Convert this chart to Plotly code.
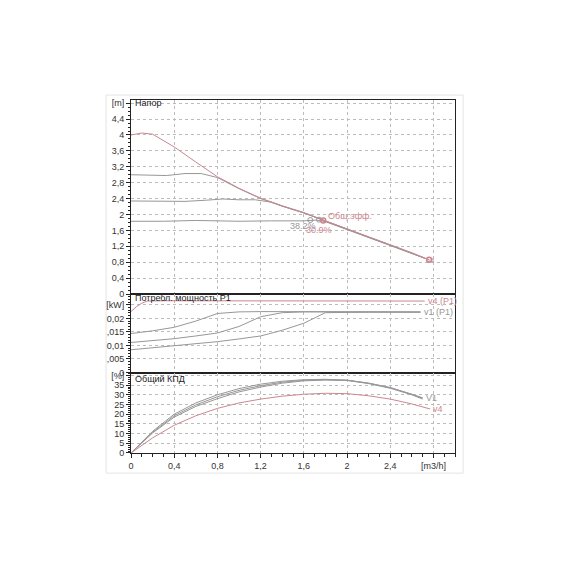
import plotly.graph_objects as go
from plotly.subplots import make_subplots

# Head curves [m] vs flow [m3/h]
q_h_v1 = [0, 0.3, 0.6, 1.0, 1.3, 1.6, 1.72, 1.8, 2.0, 2.2, 2.4, 2.6, 2.72]
h_v1 = [1.83, 1.83, 1.85, 1.83, 1.84, 1.84, 1.86, 1.82, 1.62, 1.42, 1.22, 1.02, 0.9]
q_h_v2 = [0, 0.2, 0.5, 0.7, 0.85, 1.0, 1.15, 1.3, 1.4, 1.6, 1.8, 2.0, 2.2, 2.4, 2.6, 2.72]
h_v2 = [2.34, 2.33, 2.33, 2.36, 2.39, 2.37, 2.37, 2.31, 2.21, 2.04, 1.83, 1.63, 1.43, 1.23, 1.03, 0.9]
q_h_v3 = [0, 0.2, 0.33, 0.5, 0.65, 0.8, 1.0, 1.2, 1.4, 1.6, 1.8, 2.0, 2.2, 2.4, 2.6, 2.72]
h_v3 = [3.0, 2.99, 2.98, 3.03, 3.03, 2.93, 2.65, 2.4, 2.21, 2.04, 1.83, 1.63, 1.43, 1.23, 1.03, 0.9]
q_h_v4 = [0, 0.1, 0.2, 0.4, 0.6, 0.8, 1.0, 1.2, 1.4, 1.6, 1.8, 2.0, 2.2, 2.4, 2.6, 2.76]
h_v4 = [4.0, 4.05, 4.02, 3.7, 3.32, 2.95, 2.66, 2.41, 2.22, 2.05, 1.84, 1.64, 1.44, 1.24, 1.04, 0.86]

# Power P1 [kW]
q_p = [0, 0.2, 0.4, 0.6, 0.8, 1.0, 1.2, 1.4, 1.6, 1.8, 2.0, 2.2, 2.4, 2.6, 2.68]
p_v1 = [0.0084, 0.0091, 0.0098, 0.0106, 0.0114, 0.0124, 0.0135, 0.0156, 0.0182, 0.0221, 0.0223, 0.0223, 0.0223, 0.0223, 0.0223]
p_v2 = [0.0111, 0.0118, 0.0125, 0.0135, 0.0146, 0.017, 0.0206, 0.0221, 0.0224, 0.0224, 0.0224, 0.0224, 0.0223, 0.0223, 0.0223]
p_v3 = [0.0144, 0.0154, 0.0167, 0.019, 0.0218, 0.0224, 0.0225, 0.0225, 0.0225, 0.0225, 0.0224, 0.0224, 0.0224, 0.0224, 0.0224]
q_p_v4 = [0, 0.05, 0.1, 0.15, 0.3, 0.8, 1.4, 2.0, 2.4, 2.72]
p_v4 = [0.0225, 0.0243, 0.0256, 0.0264, 0.0265, 0.0265, 0.0265, 0.0264, 0.0264, 0.0264]

# Total efficiency [%]
q_e = [0, 0.1, 0.2, 0.4, 0.6, 0.8, 1.0, 1.2, 1.4, 1.6, 1.8, 2.0, 2.2, 2.4, 2.6, 2.7]
e_v1 = [0, 5.3, 10.3, 18.5, 24.0, 28.0, 31.5, 34.0, 36.0, 37.2, 37.6, 37.4, 35.8, 33.4, 30.0, 27.8]
e_v2 = [0, 5.5, 10.7, 19.2, 24.8, 29.0, 32.3, 34.7, 36.5, 37.5, 37.8, 37.5, 36.0, 33.6, 30.3, 28.2]
e_v3 = [0, 5.8, 11.2, 20.0, 25.8, 30.0, 33.2, 35.5, 37.0, 37.8, 38.0, 37.6, 36.0, 33.8, 30.5, 28.5]
q_e_v4 = [0, 0.1, 0.2, 0.4, 0.6, 0.8, 1.0, 1.2, 1.4, 1.6, 1.8, 2.0, 2.2, 2.4, 2.6, 2.77]
e_v4 = [0, 4.0, 7.8, 14.3, 19.2, 23.0, 25.8, 27.8, 29.3, 30.3, 30.8, 30.6, 29.5, 27.8, 25.3, 22.7]

x_ticks = [0, 0.4, 0.8, 1.2, 1.6, 2.0, 2.4, 2.8]
x_labels = ["0", "0,4", "0,8", "1,2", "1,6", "2", "2,4", "[m3/h]"]
h_ticks = [0, 0.4, 0.8, 1.2, 1.6, 2.0, 2.4, 2.8, 3.2, 3.6, 4.0, 4.4, 4.8]
h_labels = ["0", "0,4", "0,8", "1,2", "1,6", "2", "2,4", "2,8", "3,2", "3,6", "4", "4,4", "[m]"]
p_ticks = [0, 0.005, 0.01, 0.015, 0.02, 0.025]
p_labels = ["0", ",005", "0,01", ",015", "0,02", "[kW]"]
e_ticks = [0, 5, 10, 15, 20, 25, 30, 35, 40]
e_labels = ["0", "5", "10", "15", "20", "25", "30", "35", "[%]"]

GREY = "#979797"
PINK = "#cc8690"
FONT = "Liberation Sans"

fig = make_subplots(rows=3, cols=1, shared_xaxes=True, vertical_spacing=0,
                    row_heights=[0.5496, 0.2224, 0.228])

def line(x, y, color, row):
    fig.add_trace(go.Scatter(x=x, y=y, mode="lines", line=dict(color=color, width=1),
                             showlegend=False, hoverinfo="skip"), row=row, col=1)

line(q_h_v1, h_v1, GREY, 1)
line(q_h_v2, h_v2, GREY, 1)
line(q_h_v3, h_v3, GREY, 1)
line(q_h_v4, h_v4, PINK, 1)
line(q_p, p_v1, GREY, 2)
line(q_p, p_v2, GREY, 2)
line(q_p, p_v3, GREY, 2)
line(q_p_v4, p_v4, PINK, 2)
line(q_e, e_v1, GREY, 3)
line(q_e, e_v2, GREY, 3)
line(q_e, e_v3, GREY, 3)
line(q_e_v4, e_v4, PINK, 3)

# operating / end points on head curves
fig.add_trace(go.Scatter(x=[1.66, 1.74], y=[1.86, 1.87], mode="markers",
                         marker=dict(symbol="circle-open", size=5, color=GREY),
                         showlegend=False, hoverinfo="skip"), row=1, col=1)
fig.add_trace(go.Scatter(x=[1.78, q_h_v4[-1]], y=[1.85, h_v4[-1]], mode="markers",
                         marker=dict(symbol="circle-open", size=5, color=PINK, line=dict(width=1.5)),
                         showlegend=False, hoverinfo="skip"), row=1, col=1)

def label(text, x, y, row, color="#222", size=9, anchor="left"):
    ax = "x" if row == 1 else "x%d" % row
    ay = "y" if row == 1 else "y%d" % row
    fig.add_annotation(x=x, y=y, xref=ax, yref=ay, text=text, showarrow=False,
                       xanchor=anchor, yanchor="middle",
                       font=dict(family=FONT, size=size, color=color))

label("Напор", 0.02, 4.8, 1)
label("Потребл. мощность P1", 0.02, 0.0276, 2)
label("Общий КПД", 0.02, 38.4, 3)
label("Общ.эфф.", 1.81, 1.96, 1, PINK)
label("38.2%", 1.45, 1.72, 1, GREY)
label("30.9%", 1.6, 1.62, 1, PINK)
label("v4", 2.72, 0.84, 1, PINK, 7)
label("v4 (P1)", 2.73, 0.0264, 2, PINK)
label("v1 (P1)", 2.69, 0.0223, 2, GREY)
label("V1", 2.71, 28.2, 3, GREY)
label("v4", 2.78, 22.7, 3, PINK)

axis_common = dict(showline=True, mirror=True, linecolor="#222", linewidth=1,
                   showgrid=True, gridcolor="#bcbcbc", griddash="dot", gridwidth=1,
                   zeroline=False, automargin=False,
                   tickfont=dict(family=FONT, size=9, color="#333"))

fig.update_xaxes(range=[0, 3.0], tickvals=x_ticks, ticktext=x_labels, **axis_common)
fig.update_xaxes(showticklabels=False, ticks="", row=1, col=1)
fig.update_xaxes(showticklabels=False, ticks="", row=2, col=1)
fig.update_xaxes(ticks="outside", ticklen=4, tickcolor="#222",
                 minor=dict(ticks="outside", ticklen=3, dtick=0.1, tickcolor="#222", showgrid=False),
                 row=3, col=1)

fig.update_yaxes(ticks="outside", ticklen=4, tickcolor="#222", **axis_common)
fig.update_yaxes(range=[0, 4.88], tickvals=h_ticks, ticktext=h_labels,
                 minor=dict(ticks="outside", ticklen=2, dtick=0.1, tickcolor="#222", showgrid=False),
                 row=1, col=1)
fig.update_yaxes(range=[0, 0.029], tickvals=p_ticks, ticktext=p_labels,
                 minor=dict(ticks="outside", ticklen=2, dtick=0.001, tickcolor="#222", showgrid=False),
                 row=2, col=1)
fig.update_yaxes(range=[0, 41.5], tickvals=e_ticks, ticktext=e_labels,
                 minor=dict(ticks="outside", ticklen=2, dtick=1, tickcolor="#222", showgrid=False),
                 row=3, col=1)

# faint outer frame
fig.add_shape(type="rect", xref="paper", yref="paper", x0=-0.077, x1=1.025, y0=-0.057, y1=1.014,
              line=dict(color="#e4e4e4", width=1), layer="below")

# page body adds an 8px offset, so margins are shifted to compensate
fig.update_layout(width=570, height=570, margin=dict(l=123, r=123, t=92, b=125),
                  paper_bgcolor="white", plot_bgcolor="white",
                  font=dict(family=FONT, size=9, color="#333"))

fig.write_html("out.html")
